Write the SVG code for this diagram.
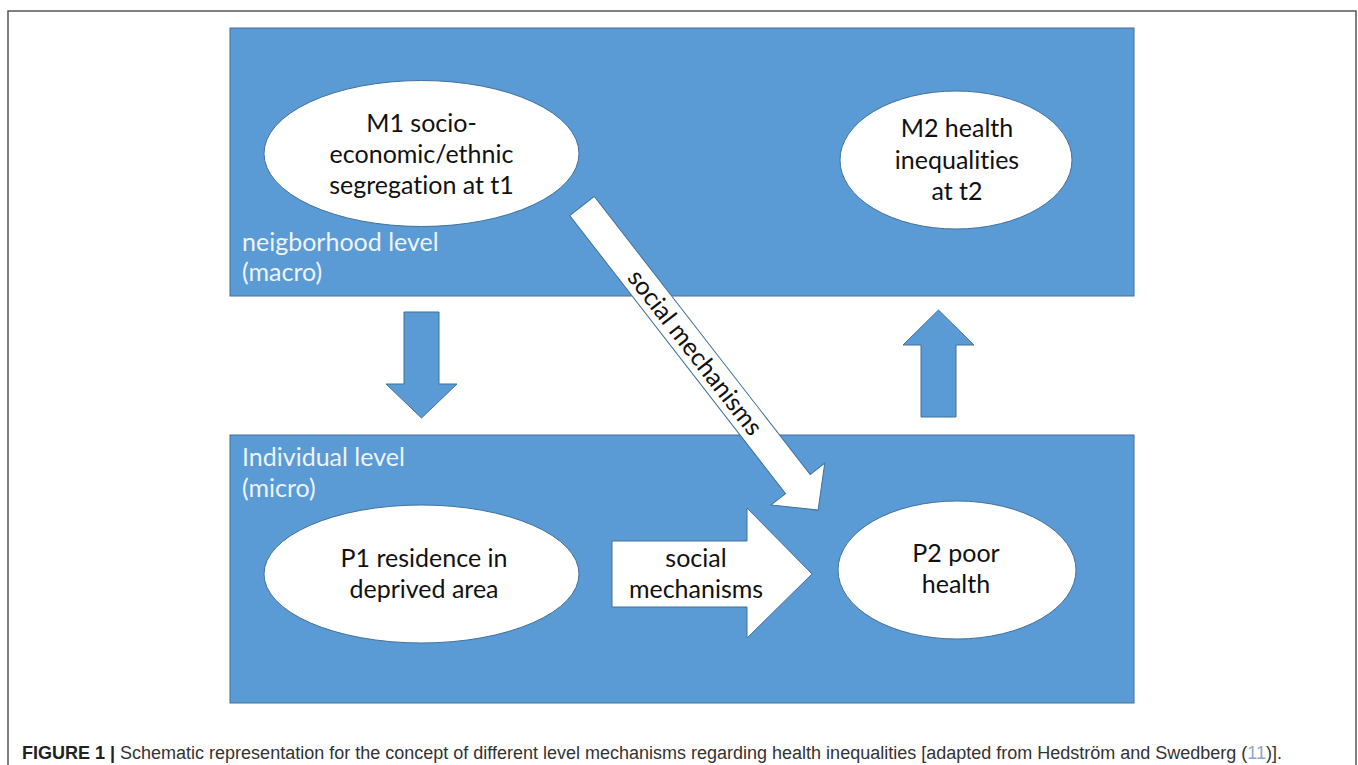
<svg xmlns="http://www.w3.org/2000/svg" width="1358" height="765" viewBox="0 0 1358 765">
  <style>
    .panel { fill: #5b9bd5; stroke: #41719c; stroke-width: 1; }
    .node { fill: #ffffff; stroke: #41719c; stroke-width: 1; }
    .blk { fill: #5b9bd5; stroke: #41719c; stroke-width: 1; }
    .wht { fill: #ffffff; stroke: #41719c; stroke-width: 1; }
    .t { font-family: Lato, "Open Sans", "Liberation Sans", sans-serif; font-size: 25px; fill: #111111; text-anchor: middle; font-variant-ligatures: none; }
    .lvl { font-family: Lato, "Open Sans", "Liberation Sans", sans-serif; font-size: 25px; fill: #eef3fa; font-variant-ligatures: none; }
    .cap { font-family: "Liberation Sans", Arial, sans-serif; font-size: 18px; fill: #333333; }
  </style>
  <rect x="0" y="0" width="1358" height="765" fill="#ffffff"/>
  <rect x="8" y="11" width="1348" height="780" fill="none" stroke="#555555" stroke-width="1.5"/>

  <g id="macro-level">
    <rect class="panel" x="230" y="28" width="904" height="268"/>
    <text class="lvl" x="242" y="251">neigborhood level</text>
    <text class="lvl" x="242" y="281">(macro)</text>
  </g>
  <g id="micro-level">
    <rect class="panel" x="230" y="435" width="904" height="268"/>
    <text class="lvl" x="242" y="466">Individual level</text>
    <text class="lvl" x="242" y="497">(micro)</text>
  </g>

  <g id="M1">
    <ellipse class="node" cx="421.5" cy="153.5" rx="157.5" ry="73"/>
    <text class="t" x="421.5" y="132">M1 socio-</text>
    <text class="t" x="421.5" y="163">economic/ethnic</text>
    <text class="t" x="421.5" y="194">segregation at t1</text>
  </g>
  <g id="M2">
    <ellipse class="node" cx="956" cy="160" rx="116" ry="69"/>
    <text class="t" x="957" y="137">M2 health</text>
    <text class="t" x="957" y="169">inequalities</text>
    <text class="t" x="957" y="200">at t2</text>
  </g>
  <g id="P1">
    <ellipse class="node" cx="421.5" cy="574" rx="157.5" ry="69"/>
    <text class="t" x="424" y="567">P1 residence in</text>
    <text class="t" x="424" y="598">deprived area</text>
  </g>
  <g id="P2">
    <ellipse class="node" cx="957" cy="570" rx="119" ry="69"/>
    <text class="t" x="956" y="562">P2 poor</text>
    <text class="t" x="956" y="593">health</text>
  </g>

  <g id="connectors">
    <path class="blk" d="M404,312 L439,312 L439,384 L457,384 L421.5,418 L386,384 L404,384 Z"/>
    <path class="blk" d="M921,417 L956,417 L956,345 L974,345 L938.5,310 L903,345 L921,345 Z"/>
    <path class="wht" d="M612,541 L747,541 L747,508 L812,574 L747,638 L747,607 L612,607 Z"/>
    <text class="t" x="696" y="567">social</text>
    <text class="t" x="696" y="598">mechanisms</text>
    <g transform="translate(582,206) rotate(52.17)">
      <path class="wht" d="M0,-15.6 L352,-15.6 L352,-34 L385,0 L352,34 L352,15.6 L0,15.6 Z"/>
      <text class="t" x="185" y="9">social mechanisms</text>
    </g>
  </g>

  <text class="cap" x="22" y="759"><tspan font-weight="bold" fill="#222222">FIGURE 1 | </tspan>Schematic representation for the concept of different level mechanisms regarding health inequalities [adapted from Hedström and Swedberg (<tspan fill="#8fa8c8">11</tspan>)].</text>
</svg>
